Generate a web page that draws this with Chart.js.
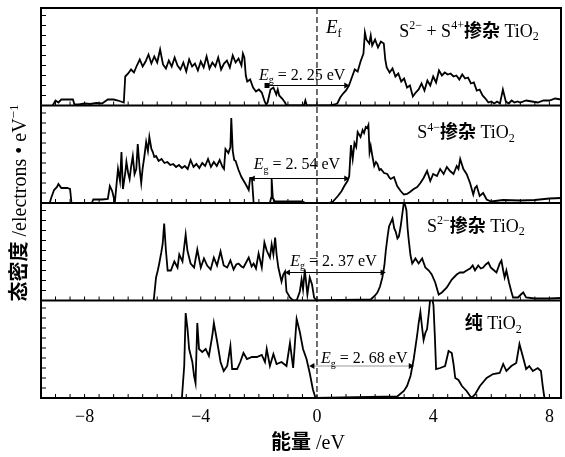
<!DOCTYPE html>
<html>
<head>
<meta charset="utf-8">
<script src="https://cdn.jsdelivr.net/npm/chart.js@4.4.1/dist/chart.umd.min.js"></script>
<style>
  html, body { margin: 0; padding: 0; background: #fff; }
  canvas { display: block; }
</style>
</head>
<body>
<canvas id="dos" width="565" height="457"></canvas>
<script>
// Panel A: S2- + S4+ doped TiO2 (energy in eV, DOS in electrons/eV)
const energyA = [
  -9.1, -9.0, -8.9, -8.8, -8.6, -8.4, -8.35, -8.2, -8.0, -7.8,
  -7.6, -7.4, -7.3, -7.2, -7.0, -6.85, -6.65, -6.6, -6.5, -6.4,
  -6.3, -6.2, -6.1, -6.0, -5.9, -5.8, -5.7, -5.6, -5.5, -5.4,
  -5.3, -5.2, -5.1, -5.0, -4.9, -4.8, -4.7, -4.6, -4.5, -4.4,
  -4.3, -4.2, -4.1, -4.0, -3.9, -3.8, -3.7, -3.6, -3.5, -3.4,
  -3.3, -3.2, -3.1, -3.0, -2.9, -2.8, -2.7, -2.6, -2.55, -2.5,
  -2.45, -2.4, -2.3, -2.2, -2.1, -2.0, -1.9, -1.8, -1.75, -1.7,
  -1.6, -1.5, -1.4, -1.35, -1.3, -1.2, -1.1, -1.05, -0.45, -0.4,
  -0.35, 0.45, 0.6, 0.7, 0.8, 0.9, 1.0, 1.1, 1.2, 1.3,
  1.4, 1.5, 1.6, 1.65, 1.7, 1.8, 1.85, 1.9, 2.0, 2.1,
  2.2, 2.3, 2.35, 2.4, 2.5, 2.6, 2.7, 2.8, 2.9, 3.0,
  3.1, 3.2, 3.3, 3.4, 3.5, 3.6, 3.7, 3.8, 3.9, 4.0,
  4.1, 4.2, 4.3, 4.4, 4.5, 4.6, 4.7, 4.8, 4.9, 5.0,
  5.1, 5.2, 5.3, 5.4, 5.5, 5.6, 5.7, 5.8, 5.9, 6.0,
  6.1, 6.2, 6.3, 6.4, 6.5, 6.6, 6.7, 6.8, 6.9, 7.0,
  7.2, 7.4, 7.6, 7.8, 8.0, 8.2, 8.4
];
const dosA = [
  0, 0.5, 0.3, 0.6, 0.6, 0.6, 0.1, 0.1, 0.2, 0.15,
  0.25, 0.2, 0.4, 0.6, 0.6, 0.5, 0.3, 2.9, 3.2, 3.6,
  3.3, 4.0, 4.6, 3.9, 4.4, 5.1, 4.2, 4.9, 4.3, 5.6,
  4.1, 3.7, 4.5, 3.9, 4.8, 4.0, 3.6, 4.3, 3.4, 4.6,
  3.9, 4.2, 3.5, 4.4, 3.8, 4.9, 3.7, 4.3, 3.9, 4.8,
  3.6, 4.2, 4.5, 3.8, 5.0, 4.3, 4.7, 4.0, 5.2, 4.8,
  3.0, 2.4, 2.6, 1.8, 1.4, 1.6, 1.3, 0.4, 0.1, 0.3,
  1.6, 1.8, 1.1, 1.6, 1.0, 0.7, 0.3, 0, 0, 0.5,
  0, 0, 0.1, 0.2, 0.8, 1.2, 1.5, 2.0, 2.8, 3.6,
  3.4, 4.4, 5.2, 7.3, 6.6, 6.2, 7.0, 6.0, 6.6, 5.8,
  6.4, 6.2, 4.6, 3.8, 3.3, 3.7, 2.9, 3.2, 2.4, 2.7,
  1.8, 2.0, 0.9, 1.3, 1.6, 2.2, 1.5, 2.5, 2.0, 2.9,
  2.3, 3.5, 3.0, 3.3, 3.1, 3.2, 2.9, 3.0, 2.6, 3.1,
  2.7, 2.8, 2.2, 2.3, 1.5, 1.6, 1.0, 0.7, 0.3, 0.4,
  0.2, 0.4, 0.2, 1.6, 0.4, 0.2, 0.5, 0.3, 0.4, 0.3,
  0.5, 0.4, 0.3, 0.5, 0.5, 0.7, 0.6
];

// Panel B: S4- doped TiO2
const energyB = [
  -9.2, -9.15, -9.05, -8.95, -8.9, -8.8, -8.6, -8.5, -8.45, -7.75,
  -7.7, -7.4, -7.2, -7.13, -7.05, -7.0, -6.96, -6.85, -6.78, -6.73,
  -6.68, -6.6, -6.56, -6.5, -6.45, -6.4, -6.34, -6.28, -6.22, -6.17,
  -6.1, -6.05, -6.0, -5.94, -5.88, -5.82, -5.77, -5.7, -5.65, -5.6,
  -5.54, -5.45, -5.35, -5.25, -5.15, -5.05, -4.95, -4.85, -4.75, -4.65,
  -4.55, -4.45, -4.35, -4.25, -4.15, -4.05, -3.95, -3.85, -3.75, -3.65,
  -3.55, -3.45, -3.35, -3.25, -3.2, -3.15, -3.05, -2.98, -2.95, -2.9,
  -2.85, -2.8, -2.7, -2.6, -2.5, -2.42, -2.35, -2.3, -2.24, -2.18,
  -1.62, -1.58, -1.56, -1.52, -1.45, -0.5, -0.4, 0.4, 0.55, 0.72,
  0.85, 0.94, 1.05, 1.11, 1.17, 1.23, 1.29, 1.35, 1.4, 1.5,
  1.57, 1.62, 1.68, 1.73, 1.77, 1.81, 1.85, 1.9, 1.97, 2.03,
  2.08, 2.15, 2.2, 2.31, 2.42, 2.5, 2.54, 2.65, 2.76, 2.88,
  2.99, 3.1, 3.2, 3.33, 3.45, 3.56, 3.67, 3.79, 3.9, 4.0,
  4.13, 4.24, 4.36, 4.47, 4.58, 4.7, 4.81, 4.87, 4.93, 5.04,
  5.15, 5.27, 5.38, 5.44, 5.5, 5.6, 5.72, 5.84, 6.0, 6.4,
  7.0, 7.5, 8.0, 8.4
];
const dosB = [
  0, 0.5, 1.3, 1.6, 1.9, 1.5, 1.5, 1.4, 0, 0,
  0.35, 0.35, 0.4, 1.7, 1.2, 0.6, 0, 3.4, 2.2, 5.1,
  1.4, 3.0, 4.1, 3.0, 2.4, 3.6, 4.7, 2.9, 3.4, 5.9,
  3.3, 2.0, 3.5, 4.7, 6.1, 5.2, 6.6, 5.4, 5.1, 4.6,
  4.7, 4.2, 4.4, 4.0, 4.1, 3.8, 3.9, 3.6, 3.8, 3.5,
  3.7, 3.4, 4.3, 3.6, 3.9, 3.5, 4.0, 3.7, 4.4, 3.6,
  4.1, 3.7, 4.3, 3.6, 3.4, 5.4, 5.0, 5.6, 8.5, 5.2,
  4.3, 4.2, 3.3, 2.6, 2.1, 1.7, 1.3, 2.5, 2.5, 0,
  0, 0.5, 2.4, 0.5, 0.15, 0.15, 0, 0, 0.15, 0.7,
  1.2, 1.7, 2.2, 2.7, 5.8, 4.4, 6.0, 5.6, 7.1, 6.6,
  7.3, 7.0, 7.6, 7.5, 7.8, 5.1, 5.7, 4.8, 3.7, 4.1,
  3.9, 3.3, 3.4, 3.0, 2.9, 2.5, 2.4, 2.6, 1.7, 1.2,
  0.85, 0.9, 1.1, 1.4, 1.6, 2.0, 2.5, 3.2, 2.2, 2.9,
  2.7, 3.4, 2.9, 3.6, 3.2, 2.9, 3.7, 3.4, 4.4, 3.4,
  2.9, 2.0, 0.85, 1.5, 1.7, 0.7, 1.0, 0.35, 0.15, 0.3,
  0.25, 0.3, 0.45, 0.5
];

// Panel C: S2- doped TiO2
const energyC = [
  -5.62, -5.54, -5.48, -5.43, -5.36, -5.31, -5.26, -5.2, -5.14, -5.03,
  -4.91, -4.8, -4.74, -4.63, -4.52, -4.46, -4.35, -4.23, -4.12, -4.0,
  -3.89, -3.78, -3.66, -3.55, -3.44, -3.32, -3.21, -3.09, -2.98, -2.87,
  -2.78, -2.7, -2.6, -2.53, -2.44, -2.35, -2.25, -2.18, -2.1, -2.01,
  -1.9, -1.81, -1.73, -1.62, -1.56, -1.5, -1.44, -1.39, -1.33, -1.22,
  -1.16, -1.1, -1.05, -0.93, -0.82, -0.7, -0.59, -0.53, -0.48, -0.42,
  -0.33, -0.25, -0.17, -0.1, -0.02, 1.85, 2.0, 2.08, 2.17, 2.25,
  2.32, 2.37, 2.43, 2.48, 2.54, 2.6, 2.66, 2.71, 2.77, 2.82,
  2.88, 2.94, 2.99, 3.04, 3.08, 3.12, 3.16, 3.22, 3.28, 3.39,
  3.5, 3.62, 3.73, 3.85, 3.95, 4.07, 4.19, 4.3, 4.47, 4.64,
  4.81, 4.92, 5.04, 5.15, 5.27, 5.36, 5.44, 5.55, 5.64, 5.72,
  5.81, 5.9, 5.98, 6.06, 6.18, 6.29, 6.35, 6.41, 6.46, 6.52,
  6.61, 6.69, 6.75, 6.92, 7.02, 7.1, 7.2, 7.5, 8.0, 8.4
];
const dosC = [
  0, 2.3, 3.0, 3.7, 4.8, 5.7, 7.7, 5.0, 3.0, 3.0,
  3.9, 3.3, 4.6, 3.9, 6.6, 5.0, 3.7, 3.3, 5.1, 3.3,
  4.2, 3.5, 3.1, 4.3, 3.5, 4.9, 3.5, 3.3, 4.0, 3.1,
  3.6, 3.7, 3.4, 3.3, 3.8, 4.3, 3.4, 3.7, 3.2, 4.7,
  3.3, 5.8, 5.0, 4.3, 5.6, 4.6, 6.3, 4.6, 3.3, 1.9,
  2.6, 2.9, 0.9, 0.3, 0, 0, 0.9, 2.1, 1.1, 3.1,
  0.6, 2.3, 1.6, 0.3, 0, 0.1, 0.5, 0.8, 1.4, 2.3,
  3.5, 5.0, 6.4, 7.4, 7.8, 8.2, 7.2, 6.9, 6.2, 6.4,
  7.4, 8.7, 9.8, 9.5, 9.0, 7.2, 6.0, 4.5, 3.7, 4.2,
  3.7, 4.2, 3.3, 3.0, 2.6, 1.8, 0.6, 0.8, 1.3, 2.1,
  2.6, 2.8, 2.8, 3.0, 3.2, 3.5, 3.0, 3.5, 3.2, 3.3,
  3.6, 3.8, 3.3, 3.1, 2.8, 3.7, 4.0, 3.0, 2.3, 3.0,
  1.8, 0.9, 0.3, 0.3, 0.6, 0.8, 0.3, 0.2, 0.2, 0.25
];

// Panel D: pure TiO2
const energyD = [
  -4.65, -4.57, -4.52, -4.46, -4.4, -4.29, -4.23, -4.18, -4.12, -4.06,
  -3.95, -3.83, -3.72, -3.6, -3.55, -3.44, -3.32, -3.21, -3.09, -2.98,
  -2.92, -2.75, -2.64, -2.53, -2.41, -2.24, -2.07, -1.9, -1.79, -1.73,
  -1.62, -1.5, -1.39, -1.22, -1.05, -0.93, -0.82, -0.7, -0.59, -0.48,
  -0.36, -0.25, -0.14, -0.05, 2.76, 2.99, 3.1, 3.22, 3.33, 3.45,
  3.5, 3.56, 3.62, 3.67, 3.73, 3.79, 3.85, 3.9, 3.96, 4.01,
  4.06, 4.1, 4.24, 4.41, 4.53, 4.64, 4.7, 4.76, 4.87, 4.99,
  5.15, 5.32, 5.44, 5.61, 5.84, 6.06, 6.29, 6.41, 6.52, 6.69,
  6.86, 6.97, 7.1, 7.2, 7.31, 7.43, 7.6, 7.71, 7.77, 7.83
];
const dosD = [
  0, 3.2, 8.5, 7.0, 4.9, 3.6, 2.2, 1.5, 7.5, 4.9,
  4.6, 4.9, 4.2, 6.3, 7.5, 5.7, 3.6, 2.7, 3.2, 5.2,
  2.9, 2.9, 3.6, 4.5, 3.9, 4.1, 4.1, 4.3, 3.6, 4.9,
  3.2, 4.4, 3.4, 3.6, 3.2, 5.5, 3.0, 7.9, 6.6, 4.9,
  3.9, 2.5, 0.85, 0, 0.15, 0.7, 1.2, 2.2, 3.9, 6.3,
  7.5, 8.6, 7.0, 5.8, 6.5, 6.9, 8.5, 10, 10, 9.3,
  6.0, 2.9, 3.0, 3.2, 4.7, 4.5, 3.4, 2.0, 1.8, 1.2,
  0.7, 0, 0.35, 1.2, 2.0, 2.4, 2.5, 3.4, 2.7, 3.2,
  3.5, 5.4, 4.0, 2.9, 3.2, 2.7, 3.0, 2.7, 1.2, 0
];

// Band gap arrows (eV) and their labels, top panel first
const gapLabels = ['2. 25', '2. 54', '2. 37', '2. 68'];
const gapStart = [-1.72, -2.2, -0.99, -0.15];
const gapEnd = [1.0, 1.0, 2.25, 3.22];
const gapLevel = [2.0, 2.45, 2.8, 3.2];

const xTickValues = [-8, -4, 0, 4, 8];

// Panel titles as text runs: [text, kind]
const panelTitles = [
  [['S'], ['2−', 'sup'], [' + S'], ['4+', 'sup'], ['掺杂', 'cjk'], [' TiO'], ['2', 'sub']],
  [['S'], ['4−', 'sup'], ['掺杂', 'cjk'], [' TiO'], ['2', 'sub']],
  [['S'], ['2−', 'sup'], ['掺杂', 'cjk'], [' TiO'], ['2', 'sub']],
  [['纯', 'cjk'], [' TiO'], ['2', 'sub']]
];
const yTitle = [['态密度', 'cjk'], [' /electrons • eV'], ['−1', 'sup']];
const xTitle = [['能量', 'cjk'], [' /eV']];

const SERIF = "'Liberation Serif', 'Times New Roman', serif";
const CJK = "'Noto Sans CJK SC', sans-serif";
const panelAxes = ['yA', 'yB', 'yC', 'yD'];

const toPoints = (xs, ys) => xs.map((x, i) => ({ x: x, y: ys[i] }));

const fontFor = (kind, size) => {
  if (kind === 'cjk') return `bold ${size}px ${CJK}`;
  if (kind === 'i') return `italic ${size}px ${SERIF}`;
  if (kind === 'sup' || kind === 'sub') return `${Math.round(size * 0.65)}px ${SERIF}`;
  return `${size}px ${SERIF}`;
};

// draw a run of mixed text pieces starting at (x, y) on the baseline
const drawRuns = (ctx, runs, x, y, size, align) => {
  let width = 0;
  runs.forEach(([t, kind]) => { ctx.font = fontFor(kind, size); width += ctx.measureText(t).width; });
  let cx = align === 'center' ? x - width / 2 : x;
  runs.forEach(([t, kind]) => {
    ctx.font = fontFor(kind, size);
    let dy = 0;
    if (kind === 'sup') dy = -size * 0.4;
    if (kind === 'sub') dy = size * 0.22;
    ctx.fillText(t, cx, y + dy);
    cx += ctx.measureText(t).width;
  });
};

const line = (ctx, x1, y1, x2, y2) => {
  ctx.beginPath();
  ctx.moveTo(x1, y1);
  ctx.lineTo(x2, y2);
  ctx.stroke();
};

const decorPlugin = {
  id: 'decor',
  afterDatasetsDraw(chart) {
    const { ctx, chartArea, scales } = chart;
    const x = scales.x;
    ctx.save();

    // Fermi level
    const x0 = x.getPixelForValue(0);
    ctx.strokeStyle = '#222';
    ctx.lineWidth = 1.3;
    ctx.setLineDash([6, 3]);
    line(ctx, x0, chartArea.top, x0, chartArea.bottom);
    ctx.setLineDash([]);

    // frame, panel separators and inward ticks
    ctx.strokeStyle = '#000';
    ctx.lineWidth = 2;
    ctx.strokeRect(chartArea.left, chartArea.top, chartArea.width, chartArea.height);
    panelAxes.forEach(id => {
      const y = scales[id];
      ctx.lineWidth = 2;
      line(ctx, chartArea.left, y.bottom, chartArea.right, y.bottom);
      ctx.lineWidth = 1;
      for (let e = -9; e <= 8; e += 0.5) {
        const px = x.getPixelForValue(e);
        line(ctx, px, y.bottom, px, y.bottom - 4);
      }
      for (let v = 1; v <= 9; v++) {
        const py = y.getPixelForValue(v);
        line(ctx, chartArea.left, py, chartArea.left + 5, py);
      }
    });

    ctx.fillStyle = '#000';
    ctx.textBaseline = 'alphabetic';

    // panel titles
    const titleSpots = [[2.83, 6.9], [3.45, 6.5], [3.79, 6.9], [5.09, 6.9]];
    panelTitles.forEach((runs, i) => {
      const y = scales[panelAxes[i]];
      drawRuns(ctx, runs, x.getPixelForValue(titleSpots[i][0]), y.getPixelForValue(titleSpots[i][1]), 18, 'left');
    });

    // band gap labels
    const gapSpots = [[-2.0, 2.6], [-2.18, 3.4], [-0.92, 3.5], [0.14, 3.5]];
    gapLabels.forEach((txt, i) => {
      const y = scales[panelAxes[i]];
      drawRuns(ctx, [['E', 'i'], ['g', 'sub'], [' = ' + txt + ' eV']],
        x.getPixelForValue(gapSpots[i][0]), y.getPixelForValue(gapSpots[i][1]), 16, 'left');
    });

    // Fermi label
    drawRuns(ctx, [['E', 'i'], ['f', 'sub']], x.getPixelForValue(0.31), scales.yA.getPixelForValue(7.3), 19, 'left');

    // axis titles
    drawRuns(ctx, xTitle, (chartArea.left + chartArea.right) / 2 + 7, 449, 20, 'center');
    ctx.translate(26, (chartArea.top + chartArea.bottom) / 2);
    ctx.rotate(-Math.PI / 2);
    drawRuns(ctx, yTitle, 0, 0, 20, 'center');

    ctx.restore();
  }
};

const dosLine = (xs, ys, axis) => ({
  data: toPoints(xs, ys),
  yAxisID: axis,
  borderColor: '#000',
  borderWidth: 1.8,
  pointRadius: 0,
  tension: 0
});

const gapArrow = i => ({
  data: [{ x: gapStart[i], y: gapLevel[i] }, { x: gapEnd[i], y: gapLevel[i] }],
  yAxisID: panelAxes[i],
  borderColor: i === 3 ? '#999' : '#000',
  borderWidth: 1,
  pointStyle: [i === 0 ? 'rect' : 'triangle', 'triangle'],
  rotation: [270, 90],
  pointRadius: 3.5,
  pointBorderWidth: 0,
  pointBackgroundColor: '#000'
});

const panelScale = () => ({
  type: 'linear',
  stack: 'dos',
  position: 'left',
  min: 0,
  max: 9.75,
  display: false
});

new Chart(document.getElementById('dos'), {
  type: 'line',
  data: {
    datasets: [
      dosLine(energyA, dosA, 'yA'),
      dosLine(energyB, dosB, 'yB'),
      dosLine(energyC, dosC, 'yC'),
      dosLine(energyD, dosD, 'yD'),
      gapArrow(0), gapArrow(1), gapArrow(2), gapArrow(3)
    ]
  },
  options: {
    responsive: false,
    animation: false,
    layout: { padding: { left: 41, top: 8, right: 1, bottom: 0 } },
    plugins: { legend: { display: false }, tooltip: { enabled: false } },
    scales: {
      x: {
        type: 'linear',
        min: -9.5,
        max: 8.4,
        grid: { display: false },
        border: { display: false },
        afterBuildTicks: s => { s.ticks = xTickValues.map(v => ({ value: v })); },
        afterFit: s => { s.height = 59; s.paddingLeft = 0; s.paddingRight = 0; },
        ticks: {
          color: '#000',
          padding: 0,
          font: { family: SERIF, size: 18 },
          callback: v => String(v).replace('-', '−')
        }
      },
      yD: panelScale(),
      yC: panelScale(),
      yB: panelScale(),
      yA: panelScale()
    }
  },
  plugins: [decorPlugin]
});
</script>
</body>
</html>
